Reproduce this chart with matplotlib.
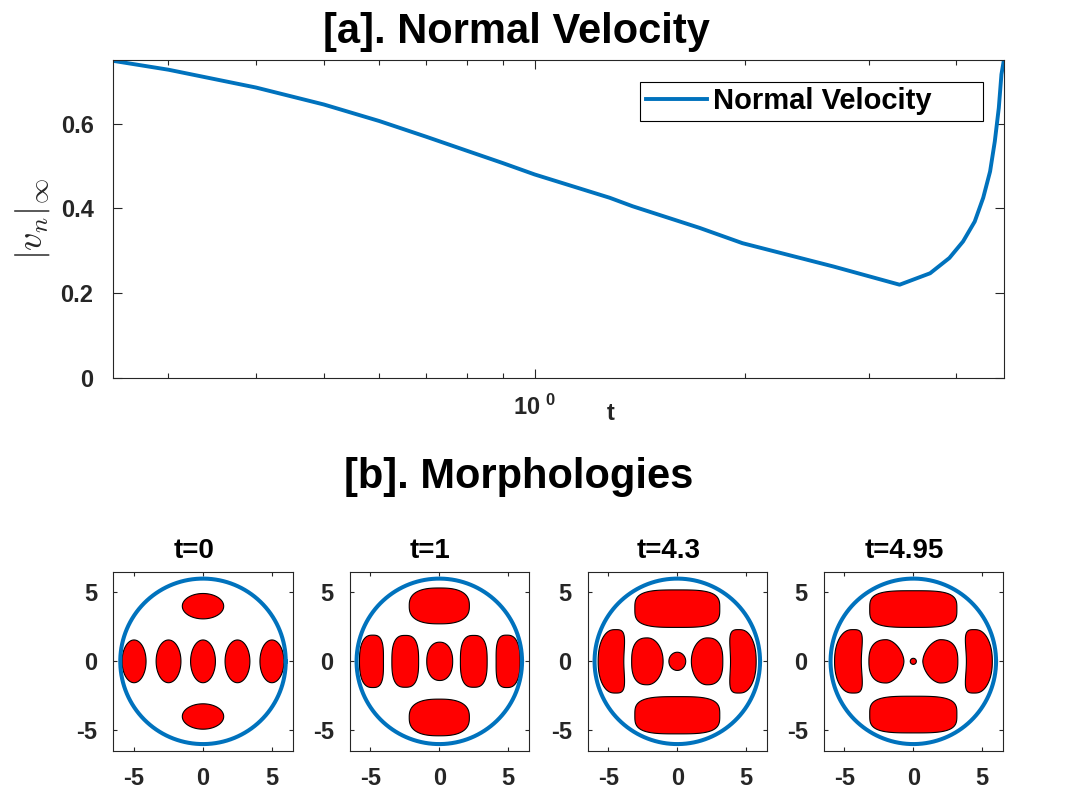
import numpy as np
from matplotlib import pyplot as plt
from matplotlib.ticker import NullFormatter, LogLocator

plt.rcParams['font.family'] = ['Liberation Sans', 'DejaVu Sans']
plt.rcParams['font.weight'] = 'bold'
plt.rcParams['axes.labelweight'] = 'bold'
plt.rcParams['axes.titleweight'] = 'bold'
plt.rcParams['axes.unicode_minus'] = False
plt.rcParams['mathtext.fontset'] = 'custom'
plt.rcParams['mathtext.rm'] = 'Liberation Sans:bold'
plt.rcParams['mathtext.bf'] = 'Liberation Sans:bold'

BLUE = '#0072BD'
DARK = '#262626'

# [a] max normal velocity vs t
t_vals = [0.25, 0.3, 0.4, 0.5, 0.6, 0.7, 0.8, 0.9, 1.0, 1.28, 1.38, 1.72, 1.98, 2.67,
          3.32, 3.67, 3.91, 4.09, 4.25, 4.37, 4.47, 4.54, 4.60, 4.64, 4.68]
v_vals = [0.748, 0.727, 0.685, 0.645, 0.606, 0.569, 0.536, 0.507, 0.480, 0.425,
          0.405, 0.354, 0.318, 0.263, 0.220, 0.247, 0.283, 0.322, 0.369, 0.425, 0.487,
          0.558, 0.637, 0.716, 0.752]
t_range = [0.25, 4.68]
v_range = [0, 0.75]
v_ticks = [0, 0.2, 0.4, 0.6]
v_ticklabels = ['0', '0.2', '0.4', '0.6']

# [b] morphologies, 4 snapshots inside a circular domain
snap_titles = ['t=0', 't=1', 't=4.3', 't=4.95']
domain_radius = 6.0
box_lim = 6.5
box_ticks = [-5, 0, 5]

# per snapshot: centres, half widths, half heights, squareness (outer side / side facing centre), bend
blob_cx = [[0, 0, -5.0, -2.5, 0, 2.5, 5.0],
           [0, 0, -4.92, -2.47, 0.03, 2.5, 4.99],
           [0, 0, -4.81, -2.17, 0, 2.16, 4.79],
           [0, 0, -4.74, -1.95, 0, 1.96, 4.79]]
blob_cy = [[4.0, -4.0, 0, 0, 0, 0, 0],
           [4.02, -4.07, 0, 0, 0, 0, 0],
           [3.82, -3.91, 0, 0, 0, 0, 0],
           [3.79, -3.86, 0, 0, 0, 0, 0]]
blob_a = [[1.5, 1.5, 0.87, 0.9, 0.9, 0.9, 0.87],
          [2.18, 2.18, 0.87, 0.97, 0.94, 0.97, 0.87],
          [3.08, 3.08, 0.93, 1.14, 0.61, 1.14, 0.93],
          [3.16, 3.16, 0.97, 1.27, 0.22, 1.27, 0.94]]
blob_b = [[0.92, 0.92, 1.55, 1.55, 1.55, 1.55, 1.55],
          [1.3, 1.33, 1.9, 1.88, 1.39, 1.88, 1.9],
          [1.36, 1.35, 2.3, 1.7, 0.66, 1.7, 2.3],
          [1.33, 1.33, 2.3, 1.57, 0.22, 1.57, 2.3]]
blob_n = [[2, 2, 2, 2, 2, 2, 2],
          [2.6, 2.6, 2.8, 2.8, 2.2, 2.8, 2.8],
          [3.4, 3.4, 3.0, 2.6, 2, 2.6, 3.0],
          [3.5, 3.5, 3.0, 2.5, 2, 2.5, 3.0]]
blob_nin = [[2, 2, 2, 2, 2, 2, 2],
            [2.6, 2.6, 2.8, 2.8, 2.2, 2.8, 2.8],
            [3.4, 3.4, 3.0, 2.0, 2, 2.0, 3.0],
            [3.5, 3.5, 3.0, 1.7, 2, 1.7, 3.0]]
blob_bend = [[0, 0, 0, 0, 0, 0, 0],
             [0, 0, 0.1, 0, 0, 0, 0.1],
             [0, 0, 0.35, 0, 0, 0, 0.35],
             [0, 0, 0.4, 0, 0, 0, 0.4]]


def blob(cx, cy, a, b, n_out, n_in, bend):
    th = np.linspace(0, 2 * np.pi, 500)
    c, s = np.cos(th), np.sin(th)
    inner = np.sign(c) == -np.sign(cx)
    n = np.where(inner, n_in, n_out)
    x = a * np.sign(c) * np.abs(c) ** (2 / n)
    y = b * np.sign(s) * np.abs(s) ** (2 / n)
    x = x - np.sign(cx) * bend * (y / b) ** 2
    return cx + x, cy + y


fig = plt.figure(figsize=(10.67, 7.89), dpi=100)

# ---- [a] normal velocity
ax = fig.add_axes([0.1059, 0.5209, 0.8351, 0.4031])
ax.plot(t_vals, v_vals, color=BLUE, lw=2.8, label='Normal Velocity')
ax.set_xscale('log')
ax.set_xlim(t_range)
ax.set_ylim(v_range)
ax.set_xticks([1])
ax.set_xticklabels([r'$\mathbf{10^{\ 0}}$'])
ax.xaxis.set_minor_locator(LogLocator(subs=np.arange(2, 10)))
ax.xaxis.set_minor_formatter(NullFormatter())
ax.set_yticks(v_ticks)
ax.set_yticklabels(v_ticklabels)
ax.tick_params(which='both', direction='in', top=True, right=True, colors=DARK, labelsize=17, width=0.8)
ax.tick_params(which='major', length=6.5)
ax.tick_params(which='minor', length=3.6)
ax.tick_params(axis='x', pad=12)
ax.tick_params(axis='y', pad=14)
for sp in ax.spines.values():
    sp.set_color(DARK)
    sp.set_linewidth(0.8)
ax.set_xlabel('t', fontsize=17, color=DARK)
ax.xaxis.set_label_coords(0.558, -0.075)
ax.set_ylabel(r'$|v_n|_\infty$', fontsize=26, math_fontfamily='cm', fontweight='normal', color=DARK)
ax.yaxis.set_label_coords(-0.068, 0.5)
leg = ax.legend(loc='upper left', bbox_to_anchor=(0.5915, 0.5, 0.385, 0.432), mode='expand',
                borderaxespad=0, fontsize=21, handlelength=2.1, handletextpad=0.2,
                borderpad=0.2, fancybox=False, edgecolor='black', framealpha=1)
leg.get_frame().set_linewidth(0.8)

fig.text(516.5 / 1067, 1 - 43.3 / 789, '[a]. Normal Velocity', fontsize=30, ha='center', va='baseline')
fig.text(518.5 / 1067, 1 - 488 / 789, '[b]. Morphologies', fontsize=30, ha='center', va='baseline')

# ---- [b] morphologies
lefts = [113, 349.3, 587.3, 823.3]
th = np.linspace(0, 2 * np.pi, 400)
for i in range(4):
    bax = fig.add_axes([lefts[i] / 1067, 0.0482, 0.1687, 0.2272])
    for k in range(len(blob_cx[i])):
        bx, by = blob(blob_cx[i][k], blob_cy[i][k], blob_a[i][k], blob_b[i][k],
                      blob_n[i][k], blob_nin[i][k], blob_bend[i][k])
        bax.fill(bx, by, facecolor='#FF0000', edgecolor='black', lw=0.8, zorder=2)
    bax.plot(domain_radius * np.cos(th), domain_radius * np.sin(th), color=BLUE, lw=2.9, zorder=3)
    bax.set_xlim(-box_lim, box_lim)
    bax.set_ylim(-box_lim, box_lim)
    bax.set_aspect('equal')
    bax.set_xticks(box_ticks)
    bax.set_yticks(box_ticks)
    bax.tick_params(direction='in', top=True, right=True, colors=DARK, labelsize=17,
                    length=3, width=0.8, pad=11.5)
    for sp in bax.spines.values():
        sp.set_color(DARK)
        sp.set_linewidth(0.8)
    bax.set_title(snap_titles[i], fontsize=20, pad=9.6, x=0.45)

plt.savefig('out.png', dpi=100)
